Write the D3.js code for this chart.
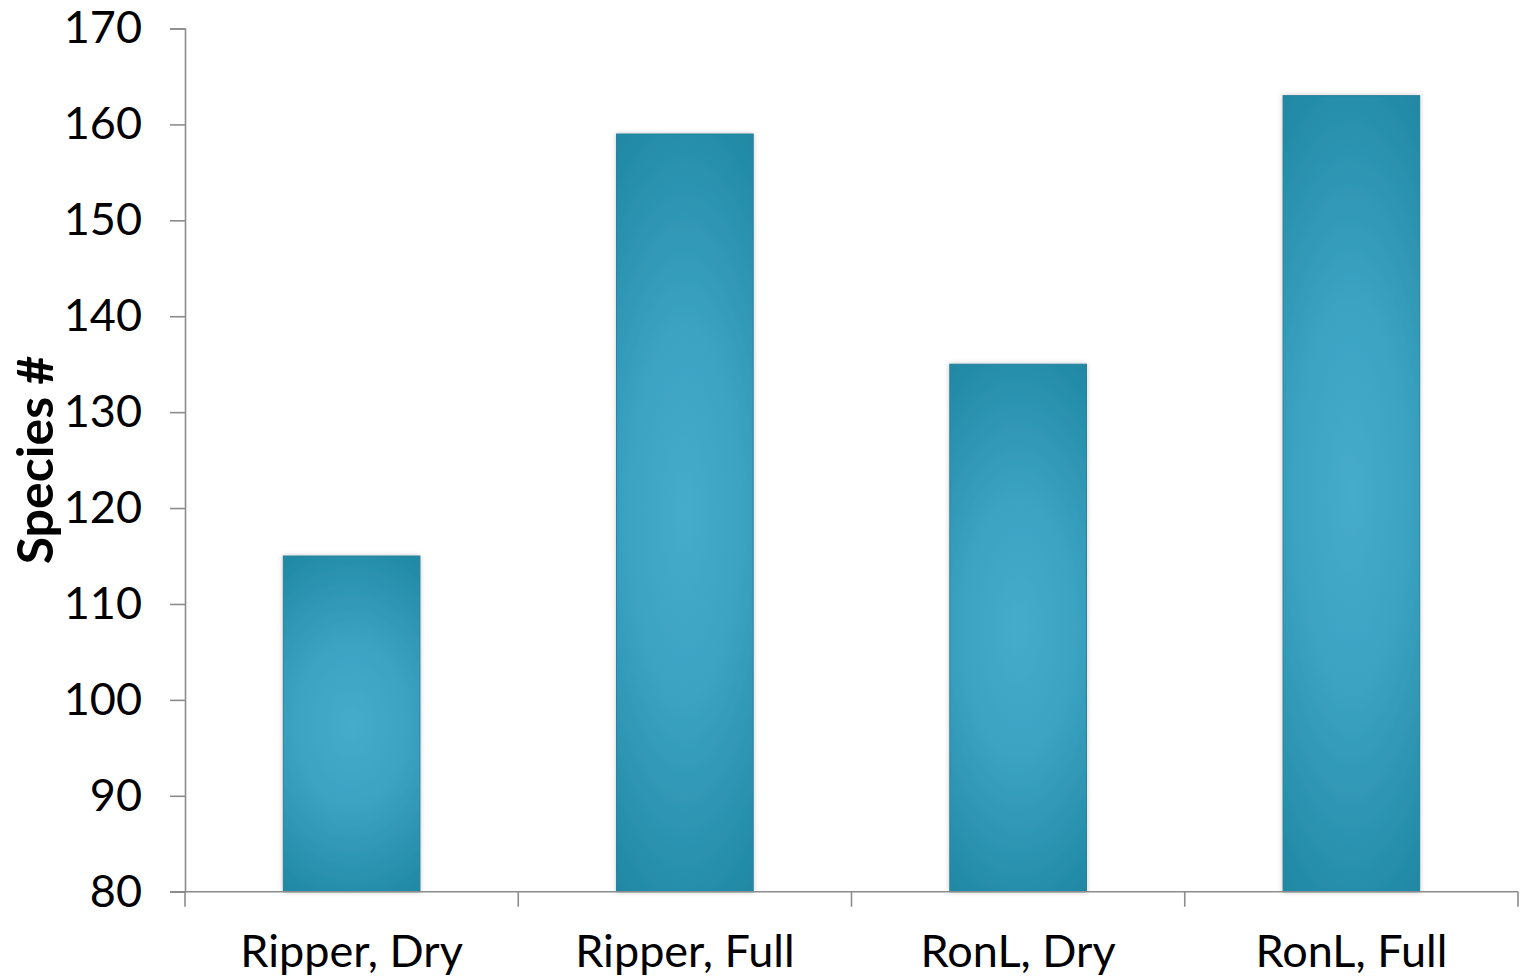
<!DOCTYPE html>
<html>
<head>
<meta charset="utf-8">
<script src="https://cdn.jsdelivr.net/npm/d3@7/dist/d3.min.js"></script>
<style>
  html, body { margin: 0; padding: 0; background: #ffffff; }
  svg { display: block; }
  text { font-family: "Lato", "Open Sans", sans-serif; fill: #000; }
</style>
</head>
<body>
<svg id="chart" width="1522" height="979"></svg>
<script>
// Species counts per treatment
const categories = ["Ripper, Dry", "Ripper, Full", "RonL, Dry", "RonL, Full"];
const speciesCounts = [115, 159, 135, 163];
const yTicks = [80, 90, 100, 110, 120, 130, 140, 150, 160, 170];
const yTitle = "Species #";

const svg = d3.select("#chart");
const plotLeft = 185, plotRight = 1518, plotTop = 28.5, plotBottom = 891.7;

const x = d3.scaleBand().domain(categories).range([plotLeft, plotRight]).padding(0);
const y = d3.scaleLinear().domain([80, 170]).range([plotBottom, plotTop]);
const barFrac = 0.41;

// Bar fill: light core fading to a darker teal toward top and bottom
const defs = svg.append("defs");
const grad = defs.append("radialGradient")
  .attr("id", "barFill")
  .attr("cx", 0.5).attr("cy", 0.5).attr("r", 0.6)
  .attr("gradientTransform", "translate(0.5,0.5) scale(1.7,1) translate(-0.5,-0.5)");
grad.append("stop").attr("offset", "0%").attr("stop-color", "#46accb");
grad.append("stop").attr("offset", "40%").attr("stop-color", "#3ca3c3");
grad.append("stop").attr("offset", "100%").attr("stop-color", "#1d86a1");

const shadow = defs.append("filter").attr("id", "barShadow")
  .attr("x", "-10%").attr("y", "-10%").attr("width", "120%").attr("height", "120%");
shadow.append("feDropShadow").attr("dx", 0).attr("dy", 0)
  .attr("stdDeviation", 2.5).attr("flood-color", "#000").attr("flood-opacity", 0.22);

const data = categories.map((c, i) => ({ c, v: speciesCounts[i] }));

// Bars
svg.append("g").selectAll("rect").data(data).join("rect")
  .attr("x", d => x(d.c) + x.bandwidth() * (1 - barFrac) / 2)
  .attr("width", x.bandwidth() * barFrac)
  .attr("y", d => y(d.v))
  .attr("height", d => y(80) - y(d.v))
  .attr("fill", "url(#barFill)")
  .attr("stroke", "#2a8099")
  .attr("stroke-width", 1)
  .attr("filter", "url(#barShadow)");

// Y axis
const yAxis = svg.append("g")
  .attr("transform", `translate(${plotLeft},0)`)
  .call(d3.axisLeft(y).tickValues(yTicks).tickSize(15).tickSizeOuter(15).tickPadding(28));
yAxis.select(".domain").attr("stroke", "#8c8c8c").attr("stroke-width", 1.6);
yAxis.selectAll(".tick line").attr("stroke", "#8c8c8c").attr("stroke-width", 1.6);
yAxis.selectAll(".tick text")
  .style("font-family", "Lato, sans-serif")
  .style("font-size", "45px")
  .attr("fill", "#000");

// X axis with ticks on category boundaries
const xAxisG = svg.append("g");
xAxisG.append("line")
  .attr("x1", plotLeft - 15).attr("x2", plotRight)
  .attr("y1", plotBottom).attr("y2", plotBottom)
  .attr("stroke", "#8c8c8c").attr("stroke-width", 1.6);
const boundaries = categories.map(c => x(c)).concat([x(categories[categories.length - 1]) + x.step()]);
xAxisG.selectAll("line.b").data(boundaries).join("line")
  .attr("class", "b")
  .attr("x1", d => d).attr("x2", d => d)
  .attr("y1", plotBottom).attr("y2", plotBottom + 15)
  .attr("stroke", "#8c8c8c").attr("stroke-width", 1.6);
xAxisG.selectAll("text").data(categories).join("text")
  .attr("x", d => x(d) + x.bandwidth() / 2)
  .attr("y", 967)
  .attr("text-anchor", "middle")
  .style("font-size", "45px")
  .text(d => d);

// Y axis title
svg.append("text")
  .attr("transform", `translate(53,460) rotate(-90)`)
  .attr("text-anchor", "middle")
  .style("font-size", "50px")
  .style("font-weight", "bold")
  .text(yTitle);
</script>
</body>
</html>
